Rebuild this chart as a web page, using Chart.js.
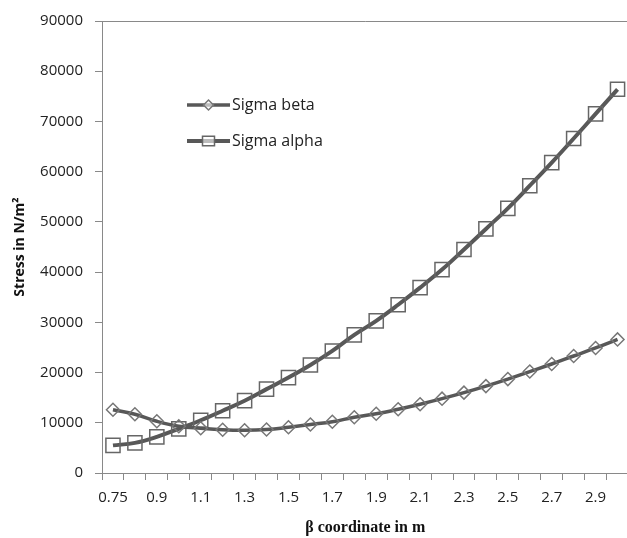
<!DOCTYPE html>
<html>
<head>
<meta charset="utf-8">
<script src="https://cdn.jsdelivr.net/npm/chart.js@4.4.0/dist/chart.umd.min.js"></script>
<style>
  html, body { margin: 0; padding: 0; background: #fff; overflow: hidden; width: 627px; height: 538px; }
  #clip { width: 627px; height: 538px; overflow: hidden; position: relative; }
  #stressChart { display: block; }
</style>
</head>
<body>
<div id="clip"><canvas id="stressChart" width="640" height="538"></canvas></div>
<script>
const betaCoord = ['0.75', '0.8', '0.9', '1', '1.1', '1.2', '1.3', '1.4', '1.5', '1.6', '1.7', '1.8',
                   '1.9', '2', '2.1', '2.2', '2.3', '2.4', '2.5', '2.6', '2.7', '2.8', '2.9', '3'];
const sigmaBeta = [12600, 11700, 10300, 9300, 8900, 8600, 8500, 8650, 9100, 9650, 10200, 11100,
                   11800, 12700, 13700, 14800, 16000, 17300, 18700, 20200, 21700, 23300, 24900, 26600];
const sigmaAlpha = [5500, 6000, 7200, 8800, 10500, 12400, 14400, 16700, 19000, 21500, 24300, 27500,
                    30300, 33500, 36900, 40500, 44500, 48600, 52700, 57200, 61800, 66600, 71500, 76400];
const yTicks = [0, 10000, 20000, 30000, 40000, 50000, 60000, 70000, 80000, 90000];

const axisGray = '#898989';
const lineGray = '#585858';
const sansFont = "'Open Sans', sans-serif";

// plot area frame (Excel draws a box round the plot area)
const framePlugin = {
  id: 'frame',
  afterDraw(chart) {
    const { ctx, chartArea: a } = chart;
    ctx.save();
    ctx.strokeStyle = axisGray;
    ctx.lineWidth = 1;
    ctx.beginPath();
    ctx.moveTo(a.left, a.top + 0.5);
    ctx.lineTo(a.right, a.top + 0.5);
    ctx.moveTo(a.right - 0.5, a.top);
    ctx.lineTo(a.right - 0.5, a.bottom);
    ctx.stroke();
    ctx.restore();
  }
};

// legend sits inside the plot like the excel one
const legendPlugin = {
  id: 'insideLegend',
  afterDraw(chart) {
    const { ctx, chartArea: a } = chart;
    const x0 = a.left + 85, x1 = a.left + 128;
    const rows = [
      { ds: chart.data.datasets[0], y: a.top + 84, r: 5 },
      { ds: chart.data.datasets[1], y: a.top + 120, r: 6 }
    ];
    ctx.save();
    rows.forEach(row => {
      const ds = row.ds;
      ctx.strokeStyle = ds.borderColor;
      ctx.lineWidth = ds.borderWidth;
      ctx.beginPath();
      ctx.moveTo(x0, row.y);
      ctx.lineTo(x1, row.y);
      ctx.stroke();
      const cx = (x0 + x1) / 2;
      ctx.strokeStyle = ds.pointBorderColor;
      ctx.lineWidth = 1.5;
      ctx.fillStyle = 'rgba(255,255,255,0.6)';
      ctx.beginPath();
      if (ds.pointStyle === 'rectRot') {
        ctx.moveTo(cx - row.r, row.y);
        ctx.lineTo(cx, row.y - row.r);
        ctx.lineTo(cx + row.r, row.y);
        ctx.lineTo(cx, row.y + row.r);
        ctx.closePath();
      } else {
        ctx.rect(cx - row.r, row.y - row.r * 0.8, row.r * 2, row.r * 1.6);
      }
      ctx.fill();
      ctx.stroke();
      ctx.fillStyle = '#222';
      ctx.font = '16px ' + sansFont;
      ctx.textBaseline = 'middle';
      ctx.fillText(ds.label, x1 + 2, row.y);
    });
    ctx.restore();
  }
};

new Chart(document.getElementById('stressChart').getContext('2d'), {
  type: 'line',
  data: {
    labels: betaCoord,
    datasets: [{
      label: 'Sigma beta',
      data: sigmaBeta,
      borderColor: lineGray,
      borderWidth: 3.5,
      tension: 0.4,
      pointStyle: 'rectRot',
      pointRadius: 6.5,
      pointBorderWidth: 1.5,
      pointBorderColor: '#777777',
      pointBackgroundColor: 'rgba(0,0,0,0)',
      fill: false
    }, {
      label: 'Sigma alpha',
      data: sigmaAlpha,
      borderColor: lineGray,
      borderWidth: 4,
      tension: 0.4,
      pointStyle: 'rect',
      pointRadius: 10,
      pointBorderWidth: 1.5,
      pointBorderColor: '#666666',
      pointBackgroundColor: 'rgba(0,0,0,0)',
      fill: false
    }]
  },
  options: {
    responsive: false,
    animation: false,
    layout: { padding: { top: 19, left: 0, right: 6, bottom: 0 } },
    plugins: {
      legend: { display: false },
      tooltip: { enabled: false }
    },
    scales: {
      x: {
        type: 'category',
        offset: true,
        afterFit: s => { s.height = 65; s.paddingLeft = 0; s.paddingRight = 0; },
        grid: {
          offset: true,
          drawOnChartArea: false,
          drawTicks: true,
          tickLength: 7,
          color: axisGray
        },
        border: { color: axisGray, width: 1 },
        ticks: {
          autoSkip: false,
          maxRotation: 0,
          padding: 9,
          color: '#222',
          font: { family: sansFont, size: 15 },
          callback: function (value, index) {
            return index % 2 === 0 ? this.getLabelForValue(value) : '';
          }
        },
        title: {
          display: true,
          text: 'β coordinate in m',
          color: '#111',
          font: { family: "'Liberation Serif', serif", size: 16, weight: 'bold' },
          padding: { top: 0, bottom: 1 }
        }
      },
      y: {
        min: yTicks[0],
        max: yTicks[yTicks.length - 1],
        afterFit: s => { s.width = 102; },
        afterBuildTicks: s => { s.ticks = yTicks.map(v => ({ value: v })); },
        grid: {
          drawOnChartArea: false,
          drawTicks: true,
          tickLength: 7,
          color: axisGray
        },
        border: { color: axisGray, width: 1 },
        ticks: {
          padding: 12,
          color: '#222',
          font: { family: sansFont, size: 15 },
          callback: v => String(v)
        },
        title: {
          display: true,
          text: 'Stress in N/m²',
          color: '#111',
          font: { family: sansFont, size: 14, weight: 'bold' },
          padding: { top: 12, bottom: 0 }
        }
      }
    }
  },
  plugins: [framePlugin, legendPlugin]
});
</script>
</body>
</html>
